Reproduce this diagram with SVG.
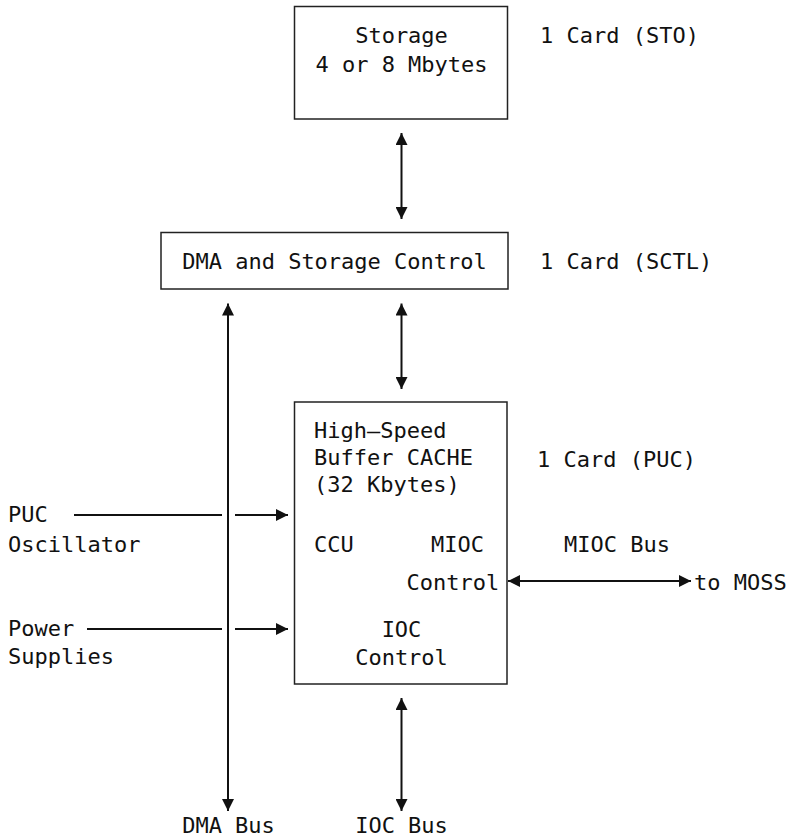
<svg xmlns="http://www.w3.org/2000/svg" width="809" height="840" viewBox="0 0 809 840">
<style>
text{font-family:"DejaVu Sans Mono","Liberation Mono",monospace;font-size:22px;fill:#111}
.box{fill:#fff;stroke:#222;stroke-width:1.5}
.ln{stroke:#111;stroke-width:2;fill:none}
.m{text-anchor:middle}
</style>
<defs>
<marker id="ah" viewBox="0 0 12 12" refX="12" refY="6" markerWidth="12" markerHeight="12" markerUnits="userSpaceOnUse" orient="auto-start-reverse">
<path d="M0,0 L12,6 L0,12 z" fill="#111"/>
</marker>
</defs>
<rect width="809" height="840" fill="#fff"/>
<g id="storage">
<rect class="box" x="294.5" y="6.5" width="213" height="112.5"/>
<text class="m" x="401.5" y="43">Storage</text>
<text class="m" x="401.5" y="72">4 or 8 Mbytes</text>
<text x="540" y="43">1 Card (STO)</text>
</g>
<g id="sctl">
<rect class="box" x="161" y="232.5" width="347" height="56.5"/>
<text class="m" x="334.5" y="269">DMA and Storage Control</text>
<text x="540" y="269">1 Card (SCTL)</text>
</g>
<g id="puc">
<rect class="box" x="294.5" y="402" width="212.5" height="282"/>
<text x="314" y="438">High—Speed</text>
<text x="314" y="465">Buffer CACHE</text>
<text x="314" y="492">(32 Kbytes)</text>
<text x="314" y="552">CCU</text>
<text x="431" y="552">MIOC</text>
<text x="406.5" y="590">Control</text>
<text class="m" x="401.5" y="637">IOC</text>
<text class="m" x="401.5" y="665">Control</text>
<text x="537" y="467">1 Card (PUC)</text>
</g>
<g id="inputs">
<text x="8" y="522">PUC</text>
<text x="8" y="552">Oscillator</text>
<text x="8" y="636">Power</text>
<text x="8" y="664">Supplies</text>
</g>
<g id="labels">
<text x="564" y="552">MIOC Bus</text>
<text x="694" y="590">to MOSS</text>
<text class="m" x="228.5" y="833">DMA Bus</text>
<text class="m" x="401.5" y="833">IOC Bus</text>
</g>
<g id="connectors">
<line class="ln" x1="401.5" y1="133" x2="401.5" y2="219" marker-start="url(#ah)" marker-end="url(#ah)"/>
<line class="ln" x1="401.5" y1="303.5" x2="401.5" y2="389" marker-start="url(#ah)" marker-end="url(#ah)"/>
<line class="ln" x1="401.5" y1="698" x2="401.5" y2="811" marker-start="url(#ah)" marker-end="url(#ah)"/>
<line class="ln" x1="228" y1="303.5" x2="228" y2="811" marker-start="url(#ah)" marker-end="url(#ah)"/>
<line class="ln" x1="74" y1="515" x2="222" y2="515"/>
<line class="ln" x1="235" y1="515" x2="288" y2="515" marker-end="url(#ah)"/>
<line class="ln" x1="87" y1="629" x2="222" y2="629"/>
<line class="ln" x1="235" y1="629" x2="288" y2="629" marker-end="url(#ah)"/>
<line class="ln" x1="508" y1="581" x2="691" y2="581" marker-start="url(#ah)" marker-end="url(#ah)"/>
</g>
</svg>
